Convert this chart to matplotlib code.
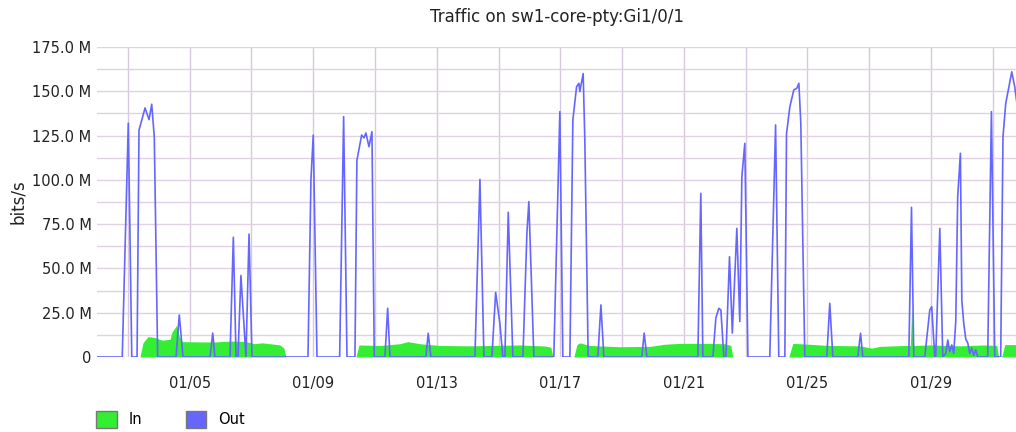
import numpy as np
import matplotlib
matplotlib.use("Agg")
import matplotlib.pyplot as plt
import matplotlib.dates as mdates
from matplotlib.patches import Patch
from matplotlib.ticker import FuncFormatter, MultipleLocator

# hours since 01/02 00:00, values in Mbit/s
out_hours = [0, 19.6, 24.3, 27.0, 31.1, 32.6, 37.3, 40.4, 42.5, 44.5, 47.1,
             61.4, 63.9, 66.8, 87.8, 89.9, 91.6, 103.3, 105.9, 108.0, 109.5,
             111.8, 115.7, 118.1, 120.4, 163.9, 166.2, 168.0, 170.9, 188.5,
             191.6, 194.2, 200.4, 201.9, 205.6, 207.4, 208.9, 211.3, 213.6,
             215.4, 223.7, 225.8, 227.6, 255.5, 257.3, 259.4, 293.6, 297.5,
             300.6, 306.8, 309.7, 313.0, 315.3, 316.9, 319.5, 323.1, 330.9,
             334.0, 335.5, 339.4, 354.9, 359.6, 361.9, 367.4, 369.7, 372.6,
             374.4, 375.1, 377.7, 379.0, 381.6, 389.1, 391.5, 393.8, 423.3,
             425.1, 427.2, 466.8, 469.1, 470.7, 478.5, 480.8, 483.1, 484.7,
             487.0, 488.6, 491.4, 493.6, 497.1, 499.4, 501.0, 503.3, 505.7,
             522.7, 527.2, 529.7, 534.4, 535.7, 538.3, 541.4, 543.7, 545.3,
             546.8, 549.9, 567.0, 569.3, 571.7, 591.1, 593.2, 595.0, 630.7,
             632.8, 634.6, 643.1, 647.0, 648.5, 650.9, 651.6, 654.8, 657.1,
             659.4, 661.0, 662.5, 664.1, 665.6, 667.2, 668.7, 670.8, 671.9,
             673.4, 675.0, 676.5, 678.1, 679.6, 681.2, 682.7, 684.3, 692.0,
             694.9, 697.5, 702.1, 703.9, 706.0, 710.7, 713.0, 715.3]
out_mbps = [0, 0, 132, 0, 0, 128, 140.6, 134, 142.7, 124, 0,
            0, 23.7, 0, 0, 13.5, 0, 0, 67.6, 0, 0,
            46, 0, 69.4, 0, 0, 100, 125.3, 0, 0,
            135.7, 0, 0, 111, 125.3, 123.7, 126.5, 118.7, 127.2,
            0, 0, 27.5, 0, 0, 13.4, 0, 0, 100.3,
            0, 0, 36.5, 19, 0, 0, 81.7, 0, 0,
            70, 87.7, 0, 0, 138.5, 0, 0, 133.8, 152.6,
            154.5, 149.8, 160, 122.5, 0, 0, 29.4, 0, 0,
            13.5, 0, 0, 92.4, 0, 0, 22, 27.5, 26.5,
            0, 0, 56.6, 13.5, 72.6, 20, 101.8, 120.6, 0,
            0, 131, 0, 0, 126, 141.3, 150.8, 151.7, 154.5,
            132, 0, 0, 30.3, 0, 0, 13.4, 0, 0,
            84.5, 0, 0, 26.5, 28.4, 0, 0, 72.6, 0,
            2, 9.6, 3, 6.8, 2, 20, 90.5, 115, 32,
            19, 10, 8, 2, 5, 1, 4, 0, 0,
            138.5, 0, 0, 124.4, 143, 161, 152.6, 140]

in_hours = [0, 33.4, 35.7, 39.6, 45.0, 50.5, 56.7, 58.3, 61.9, 63.7, 66.0,
            80.0, 91.6, 103.3, 115.0, 122.7, 128.2, 134.4, 142.1, 145.2,
            146.8, 201.2, 203.5, 219.8, 235.3, 241.5, 250.9, 266.4, 289.7,
            305.2, 328.5, 348.0, 352.6, 354.2, 370.5, 372.8, 375.1, 382.9,
            406.2, 429.5, 441.2, 452.8, 468.4, 487.8, 492.4, 494.0, 537.5,
            540.6, 546.0, 569.3, 592.6, 601.9, 608.1, 627.6, 631.9, 633.0,
            634.2, 647.0, 670.3, 689.7, 699.0, 700.6, 702.9, 705.3, 715.3]
in_mbps = [0, 0, 8, 11.5, 11, 9.5, 10, 14, 18, 12, 8.7,
           8.5, 8.5, 9, 8.8, 7.5, 8, 7.5, 6.8, 5,
           0, 0, 6.8, 6.5, 7.5, 8.7, 7.5, 6.5, 6.3,
           6.5, 6.8, 6.2, 5.5, 0, 0, 7, 8, 6.5,
           5.8, 6.0, 7.2, 7.7, 7.7, 7.5, 6.5, 0, 0,
           7.7, 7.5, 6.5, 6.3, 5, 6, 6.5, 6.5, 28,
           6.5, 6.8, 6.3, 6.8, 6.5, 0, 0, 7, 7]

start = np.datetime64("2024-01-02T00:00")


def to_time(hours):
    mins = np.round(np.array(hours) * 60).astype(int)
    return start + mins.astype("timedelta64[m]")


def ylabel_fmt(v, pos):
    if v == 0:
        return "0"
    return f"{v / 1e6:.1f} M"


out_t = to_time(out_hours)
in_t = to_time(in_hours)
out_v = np.array(out_mbps) * 1e6
in_v = np.array(in_mbps) * 1e6

green = "#33ee33"
blue = "#6666ff"

fig = plt.figure(figsize=(10.16, 4.32), dpi=100)
ax = fig.add_axes([0.0955, 0.1736, 0.9045, 0.7176])

ax.fill_between(in_t, 0, in_v, color=green, linewidth=0)
ax.plot(out_t, out_v, color=blue, linewidth=1.2)

ax.set_ylim(0, 175e6)
ax.set_xlim(start, start + np.timedelta64(714 * 60, "m"))

ax.yaxis.set_major_locator(MultipleLocator(25e6))
ax.yaxis.set_minor_locator(MultipleLocator(12.5e6))
ax.yaxis.set_major_formatter(FuncFormatter(ylabel_fmt))

ax.xaxis.set_major_locator(mdates.DayLocator(bymonthday=[5, 9, 13, 17, 21, 25, 29]))
ax.xaxis.set_minor_locator(mdates.DayLocator(bymonthday=[3, 7, 11, 15, 19, 23, 27, 31]))
ax.xaxis.set_major_formatter(mdates.DateFormatter("%m/%d"))

ax.grid(True, which="both", axis="y", color="#e0d2e4", linewidth=1)
ax.grid(True, which="both", axis="x", color="#d8c8de", linewidth=1)
ax.set_axisbelow(True)
for s in ax.spines.values():
    s.set_visible(False)
ax.tick_params(axis="both", which="both", length=0, labelsize=10.5, colors="#222222")
ax.tick_params(axis="x", pad=14)
ax.tick_params(axis="y", pad=4)

ax.set_ylabel("bits/s", fontsize=12, color="#222222", labelpad=4)
ax.set_title("Traffic on sw1-core-pty:Gi1/0/1", fontsize=12, color="#222222", pad=18)

handles = [Patch(facecolor=green, edgecolor="#777777", label="In"),
           Patch(facecolor=blue, edgecolor="#777777", label="Out")]
fig.legend(handles=handles, loc="lower left", bbox_to_anchor=(0.082, -0.02),
           ncol=2, frameon=False, fontsize=10.5, handlelength=1.4,
           handleheight=1.4, columnspacing=3.0, handletextpad=0.8)

fig.savefig("out.png", dpi=100)
